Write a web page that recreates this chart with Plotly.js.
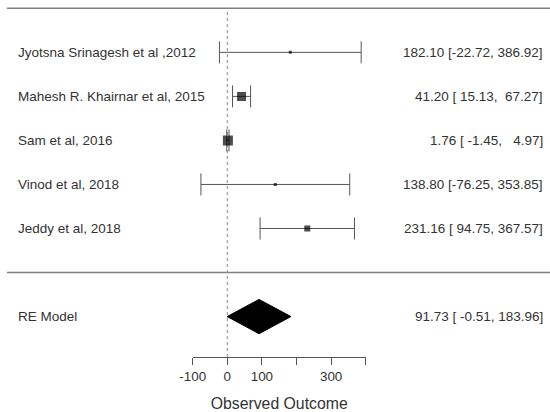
<!DOCTYPE html>
<html>
<head>
<meta charset="utf-8">
<script src="https://cdn.plot.ly/plotly-3.0.1.min.js"></script>
<style>html,body{margin:0;padding:0;background:#fff;}#chart{width:550px;height:412px;}</style>
</head>
<body>
<div id="chart"></div>
<script>
// ---- data ----
const studies = ["Jyotsna Srinagesh et al ,2012", "Mahesh R. Khairnar et al, 2015", "Sam et al, 2016", "Vinod et al, 2018", "Jeddy et al, 2018"];
const estimates = [182.10, 41.20, 1.76, 138.80, 231.16];
const lowerCI = [-22.72, 15.13, -1.45, -76.25, 94.75];
const upperCI = [386.92, 67.27, 4.97, 353.85, 367.57];
const modelLabel = "RE Model";
const modelEstimate = [91.73];
const modelLower = [-0.51];
const modelUpper = [183.96];
const tickValues = [-100, 0, 100, 200, 300, 400];
const tickLabels = ["-100", "0", "100", "", "300", ""];
const axisTitle = "Observed Outcome";

// ---- style ----
const markerSizes = [3, 9, 10, 3, 6];
const FONT = "Liberation Sans, Arial, sans-serif";
const TXT = "#333333";
const k = studies.length;
const rows = studies.map((s, i) => k - i);
const modelRow = -1;
const diamondHalf = 0.39;
const yBottom = -1.918, yTop = 6.098;
const W = 550;
const axL = 192.7, axR = 365.7;              // pixel span of the -100..400 axis
const unitsPerPx = 500 / (axR - axL);
const xAt = p => -100 + (p - axL) * unitsPerPx; // full-width axis value at pixel p

function pad(v, w) {
  let s = v.toFixed(2);
  while (s.length < w) s = "\u00A0" + s;
  return s;
}
function ciText(e, l, u) {
  return e.toFixed(2) + " [" + pad(l, 6) + ", " + pad(u, 6) + "]";
}

const traces = [];
// horizontal rules (top and separator), on the full-width axis
[k + 1, 0].forEach(r => traces.push({
  type: "scatter", mode: "lines", xaxis: "x", yaxis: "y",
  x: [xAt(7), xAt(552)], y: [r, r],
  line: {color: "#808080", width: 1.5},
  hoverinfo: "skip", showlegend: false
}));
// reference line at 0
traces.push({
  type: "scatter", mode: "lines", xaxis: "x2", yaxis: "y",
  x: [0, 0], y: [yBottom, k + 1],
  line: {color: "#8a8a8a", width: 1, dash: "dot"},
  hoverinfo: "skip", showlegend: false
});
// studies
traces.push({
  type: "scatter", mode: "markers", xaxis: "x2", yaxis: "y",
  x: estimates, y: rows,
  marker: {symbol: "square", color: "#000", size: markerSizes, line: {width: 0}},
  error_x: {
    type: "data", symmetric: false,
    array: estimates.map((e, i) => upperCI[i] - e),
    arrayminus: estimates.map((e, i) => e - lowerCI[i]),
    color: "#555", thickness: 1, width: 11
  },
  hoverinfo: "skip", showlegend: false
});
// summary diamond
traces.push({
  type: "scatter", mode: "lines", xaxis: "x2", yaxis: "y",
  x: [modelLower[0], modelEstimate[0], modelUpper[0], modelEstimate[0], modelLower[0]],
  y: [modelRow, modelRow + diamondHalf, modelRow, modelRow - diamondHalf, modelRow],
  fill: "toself", fillcolor: "#000", line: {color: "#000", width: 1},
  hoverinfo: "skip", showlegend: false
});

const annotations = [];
function addRow(label, txt, y) {
  annotations.push({xref: "paper", yref: "y", x: 16 / W, y: y, text: label, showarrow: false, xanchor: "left", yanchor: "middle", font: {family: FONT, size: 13.5, color: TXT}});
  annotations.push({xref: "paper", yref: "y", x: 545 / W, y: y, text: txt, showarrow: false, xanchor: "right", yanchor: "middle", font: {family: FONT, size: 13.5, color: TXT}});
}
studies.forEach((s, i) => addRow(s, ciText(estimates[i], lowerCI[i], upperCI[i]), rows[i]));
addRow(modelLabel, ciText(modelEstimate[0], modelLower[0], modelUpper[0]), modelRow);

const layout = {
  width: 550, height: 412,
  margin: {l: 0, r: 0, t: 4, b: 412 - 356.7, pad: 0},
  paper_bgcolor: "#fff", plot_bgcolor: "rgba(0,0,0,0)",
  showlegend: false,
  xaxis: {
    domain: [0, 1], range: [xAt(0), xAt(W)], visible: false, fixedrange: true
  },
  xaxis2: {
    domain: [axL / W, axR / W], range: [-100, 400], anchor: "y", fixedrange: true,
    showgrid: false, zeroline: false,
    showline: true, linecolor: "#555", linewidth: 1,
    ticks: "outside", ticklen: 7, tickwidth: 1, tickcolor: "#555",
    tickvals: tickValues, ticktext: tickLabels,
    tickfont: {family: FONT, size: 13.4, color: TXT},
    title: {text: axisTitle, font: {family: FONT, size: 15.8, color: TXT}, standoff: 14}
  },
  yaxis: {
    range: [yBottom, yTop], fixedrange: true,
    showgrid: false, zeroline: false, showline: false, showticklabels: false, ticks: ""
  },
  annotations: annotations
};

Plotly.newPlot("chart", traces, layout, {displayModeBar: false, staticPlot: true});
</script>
</body>
</html>
